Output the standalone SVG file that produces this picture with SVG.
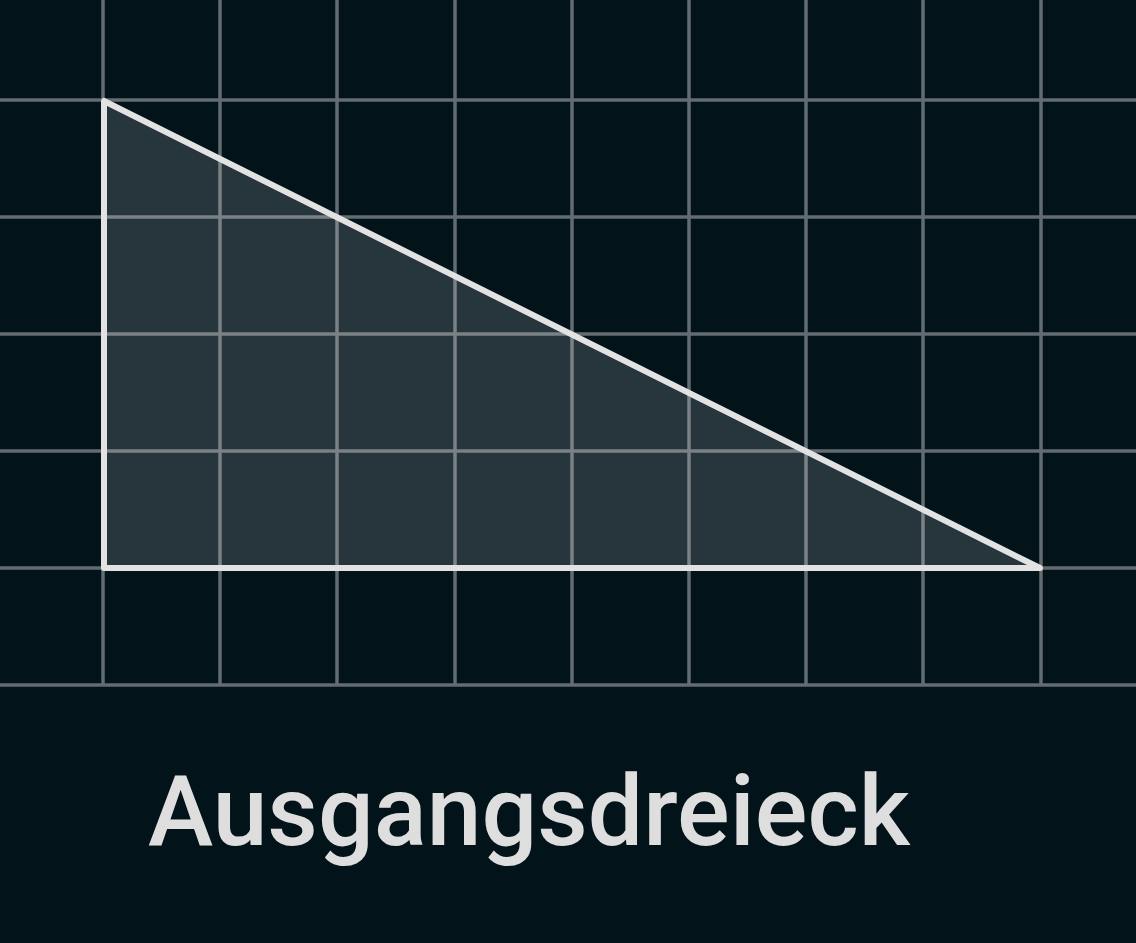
<svg xmlns="http://www.w3.org/2000/svg" width="1136" height="943" viewBox="0 0 1136 943">
  <style>
    .grid line { stroke: #636d71; stroke-width: 3.5; }
    .tri { fill: #ffffff; fill-opacity: 0.15; stroke: #e2e2e2; stroke-width: 6; stroke-linejoin: round; }
    .label { font-family: Roboto, "Liberation Sans", sans-serif; font-weight: 500; font-size: 98.5px; fill: #dedede; }
  </style>
  <rect x="0" y="0" width="1136" height="943" fill="#02131a"/>
  <g id="grid" class="grid">
    <line x1="103" y1="0" x2="103" y2="685"/>
    <line x1="220" y1="0" x2="220" y2="685"/>
    <line x1="337" y1="0" x2="337" y2="685"/>
    <line x1="455" y1="0" x2="455" y2="685"/>
    <line x1="572" y1="0" x2="572" y2="685"/>
    <line x1="689" y1="0" x2="689" y2="685"/>
    <line x1="806" y1="0" x2="806" y2="685"/>
    <line x1="923" y1="0" x2="923" y2="685"/>
    <line x1="1041" y1="0" x2="1041" y2="685"/>
    <line x1="0" y1="100" x2="1136" y2="100"/>
    <line x1="0" y1="217" x2="1136" y2="217"/>
    <line x1="0" y1="334" x2="1136" y2="334"/>
    <line x1="0" y1="451" x2="1136" y2="451"/>
    <line x1="0" y1="568" x2="1136" y2="568"/>
    <line x1="0" y1="685" x2="1136" y2="685"/>
  </g>
  <g id="triangle">
    <polygon class="tri" points="104,101 104,568 1040,568"/>
  </g>
  <g id="title">
    <text class="label" x="148" y="845" textLength="762" lengthAdjust="spacingAndGlyphs">Ausgangsdreieck</text>
  </g>
</svg>
